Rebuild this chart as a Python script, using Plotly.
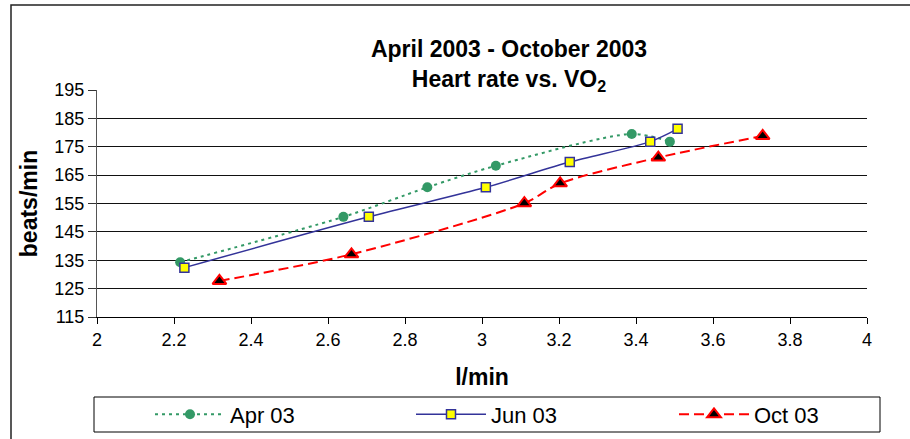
import plotly.graph_objects as go

# ---- data ----
apr_x = [2.216, 2.640, 2.858, 3.036, 3.389, 3.488]
apr_y = [134.3, 150.3, 160.7, 168.3, 179.5, 176.8]

jun_x = [2.227, 2.706, 3.010, 3.228, 3.437, 3.508]
jun_y = [132.4, 150.3, 160.7, 169.6, 176.8, 181.3]

oct_x = [2.318, 2.661, 3.110, 3.203, 3.458, 3.729]
oct_y = [127.7, 137.1, 155.1, 162.1, 171.2, 178.8]

series_names = ["Apr 03", "Jun 03", "Oct 03"]
x_ticks = [2, 2.2, 2.4, 2.6, 2.8, 3, 3.2, 3.4, 3.6, 3.8, 4]
y_ticks = [115, 125, 135, 145, 155, 165, 175, 185, 195]

FONT = "Arial, Liberation Sans, sans-serif"

fig = go.Figure()

fig.add_trace(go.Scatter(
    x=apr_x, y=apr_y, name=series_names[0], mode="lines+markers", showlegend=True,
    line=dict(color="#339966", width=2, dash="3px,4px", shape="spline", smoothing=0.8),
    marker=dict(symbol="circle", size=10, color="#339966", line=dict(width=0)),
    legend="legend",
))
fig.add_trace(go.Scatter(
    x=jun_x, y=jun_y, name=series_names[1], mode="lines+markers", showlegend=True,
    line=dict(color="#333399", width=1.5, shape="spline", smoothing=0.8),
    marker=dict(symbol="square", size=9, color="#FFFF00", line=dict(color="#333399", width=1.5)),
    legend="legend2",
))
fig.add_trace(go.Scatter(
    x=oct_x, y=oct_y, name=series_names[2], mode="lines+markers", showlegend=True,
    line=dict(color="#FF0000", width=2, dash="10px,5px", shape="spline", smoothing=0.8),
    marker=dict(symbol="triangle-up", size=12, color="#000000", line=dict(color="#FF0000", width=2)),
    legend="legend3",
))

W, H = 910, 439
L, R, T, B = 97, 43, 90, 122
pw, ph = W - L - R, H - T - B

def px_x(p):
    return (p - L) / pw

def px_y(p):
    return (H - B - p) / ph

leg_common = dict(
    orientation="h", yanchor="middle", y=px_y(414.5), xanchor="left",
    bgcolor="rgba(0,0,0,0)", borderwidth=0, itemwidth=70,
    font=dict(family=FONT, size=22, color="#000000"),
)

fig.update_layout(
    width=W, height=H,
    showlegend=True,
    margin=dict(l=L, r=R, t=T, b=B, autoexpand=False),
    paper_bgcolor="#FFFFFF", plot_bgcolor="#FFFFFF",
    font=dict(family=FONT, size=18, color="#000000"),
    title=dict(
        text="April 2003 - October 2003<br>Heart rate vs. VO<sub>2</sub>",
        font=dict(family=FONT, size=23, color="#000000", weight="bold"),
        xref="container", x=509 / W, xanchor="center",
        yref="container", y=1 - 57 / H, yanchor="top",
    ),
    xaxis=dict(
        range=[2, 4], tickvals=x_ticks, ticks="outside", ticklen=6, tickcolor="#000000",
        showline=True, linecolor="#000000", linewidth=1, showgrid=False, zeroline=False,
        tickfont=dict(family=FONT, size=18),
        title=dict(text="l/min", font=dict(family=FONT, size=23, weight="bold"), standoff=20),
    ),
    yaxis=dict(
        range=[115, 195], tickvals=y_ticks, ticks="outside", ticklen=8, tickcolor="#333333",
        showline=True, linecolor="#555555", linewidth=1,
        showgrid=True, gridcolor="#111111", gridwidth=1, zeroline=False,
        tickfont=dict(family=FONT, size=18),
        title=dict(text="beats/min", font=dict(family=FONT, size=23, weight="bold"), standoff=10),
    ),
    legend=dict(x=px_x(150), **leg_common),
    legend2=dict(x=px_x(411), **leg_common),
    legend3=dict(x=px_x(674), **leg_common),
    shapes=[
        # legend frame
        dict(type="rect", xref="paper", yref="paper",
             x0=px_x(94), x1=px_x(880), y0=px_y(432), y1=px_y(397),
             line=dict(color="#000000", width=1), fillcolor="rgba(0,0,0,0)", layer="below"),
        # outer chart frame (cropped on right/bottom in the reference)
        dict(type="rect", xref="paper", yref="paper",
             x0=px_x(11), x1=px_x(1000), y0=px_y(600), y1=px_y(5),
             line=dict(color="#222222", width=1.5), fillcolor="rgba(0,0,0,0)", layer="below"),
    ],
)

fig.write_html("out.html", config={"displayModeBar": False},
               post_script="document.body.style.margin='0';")
